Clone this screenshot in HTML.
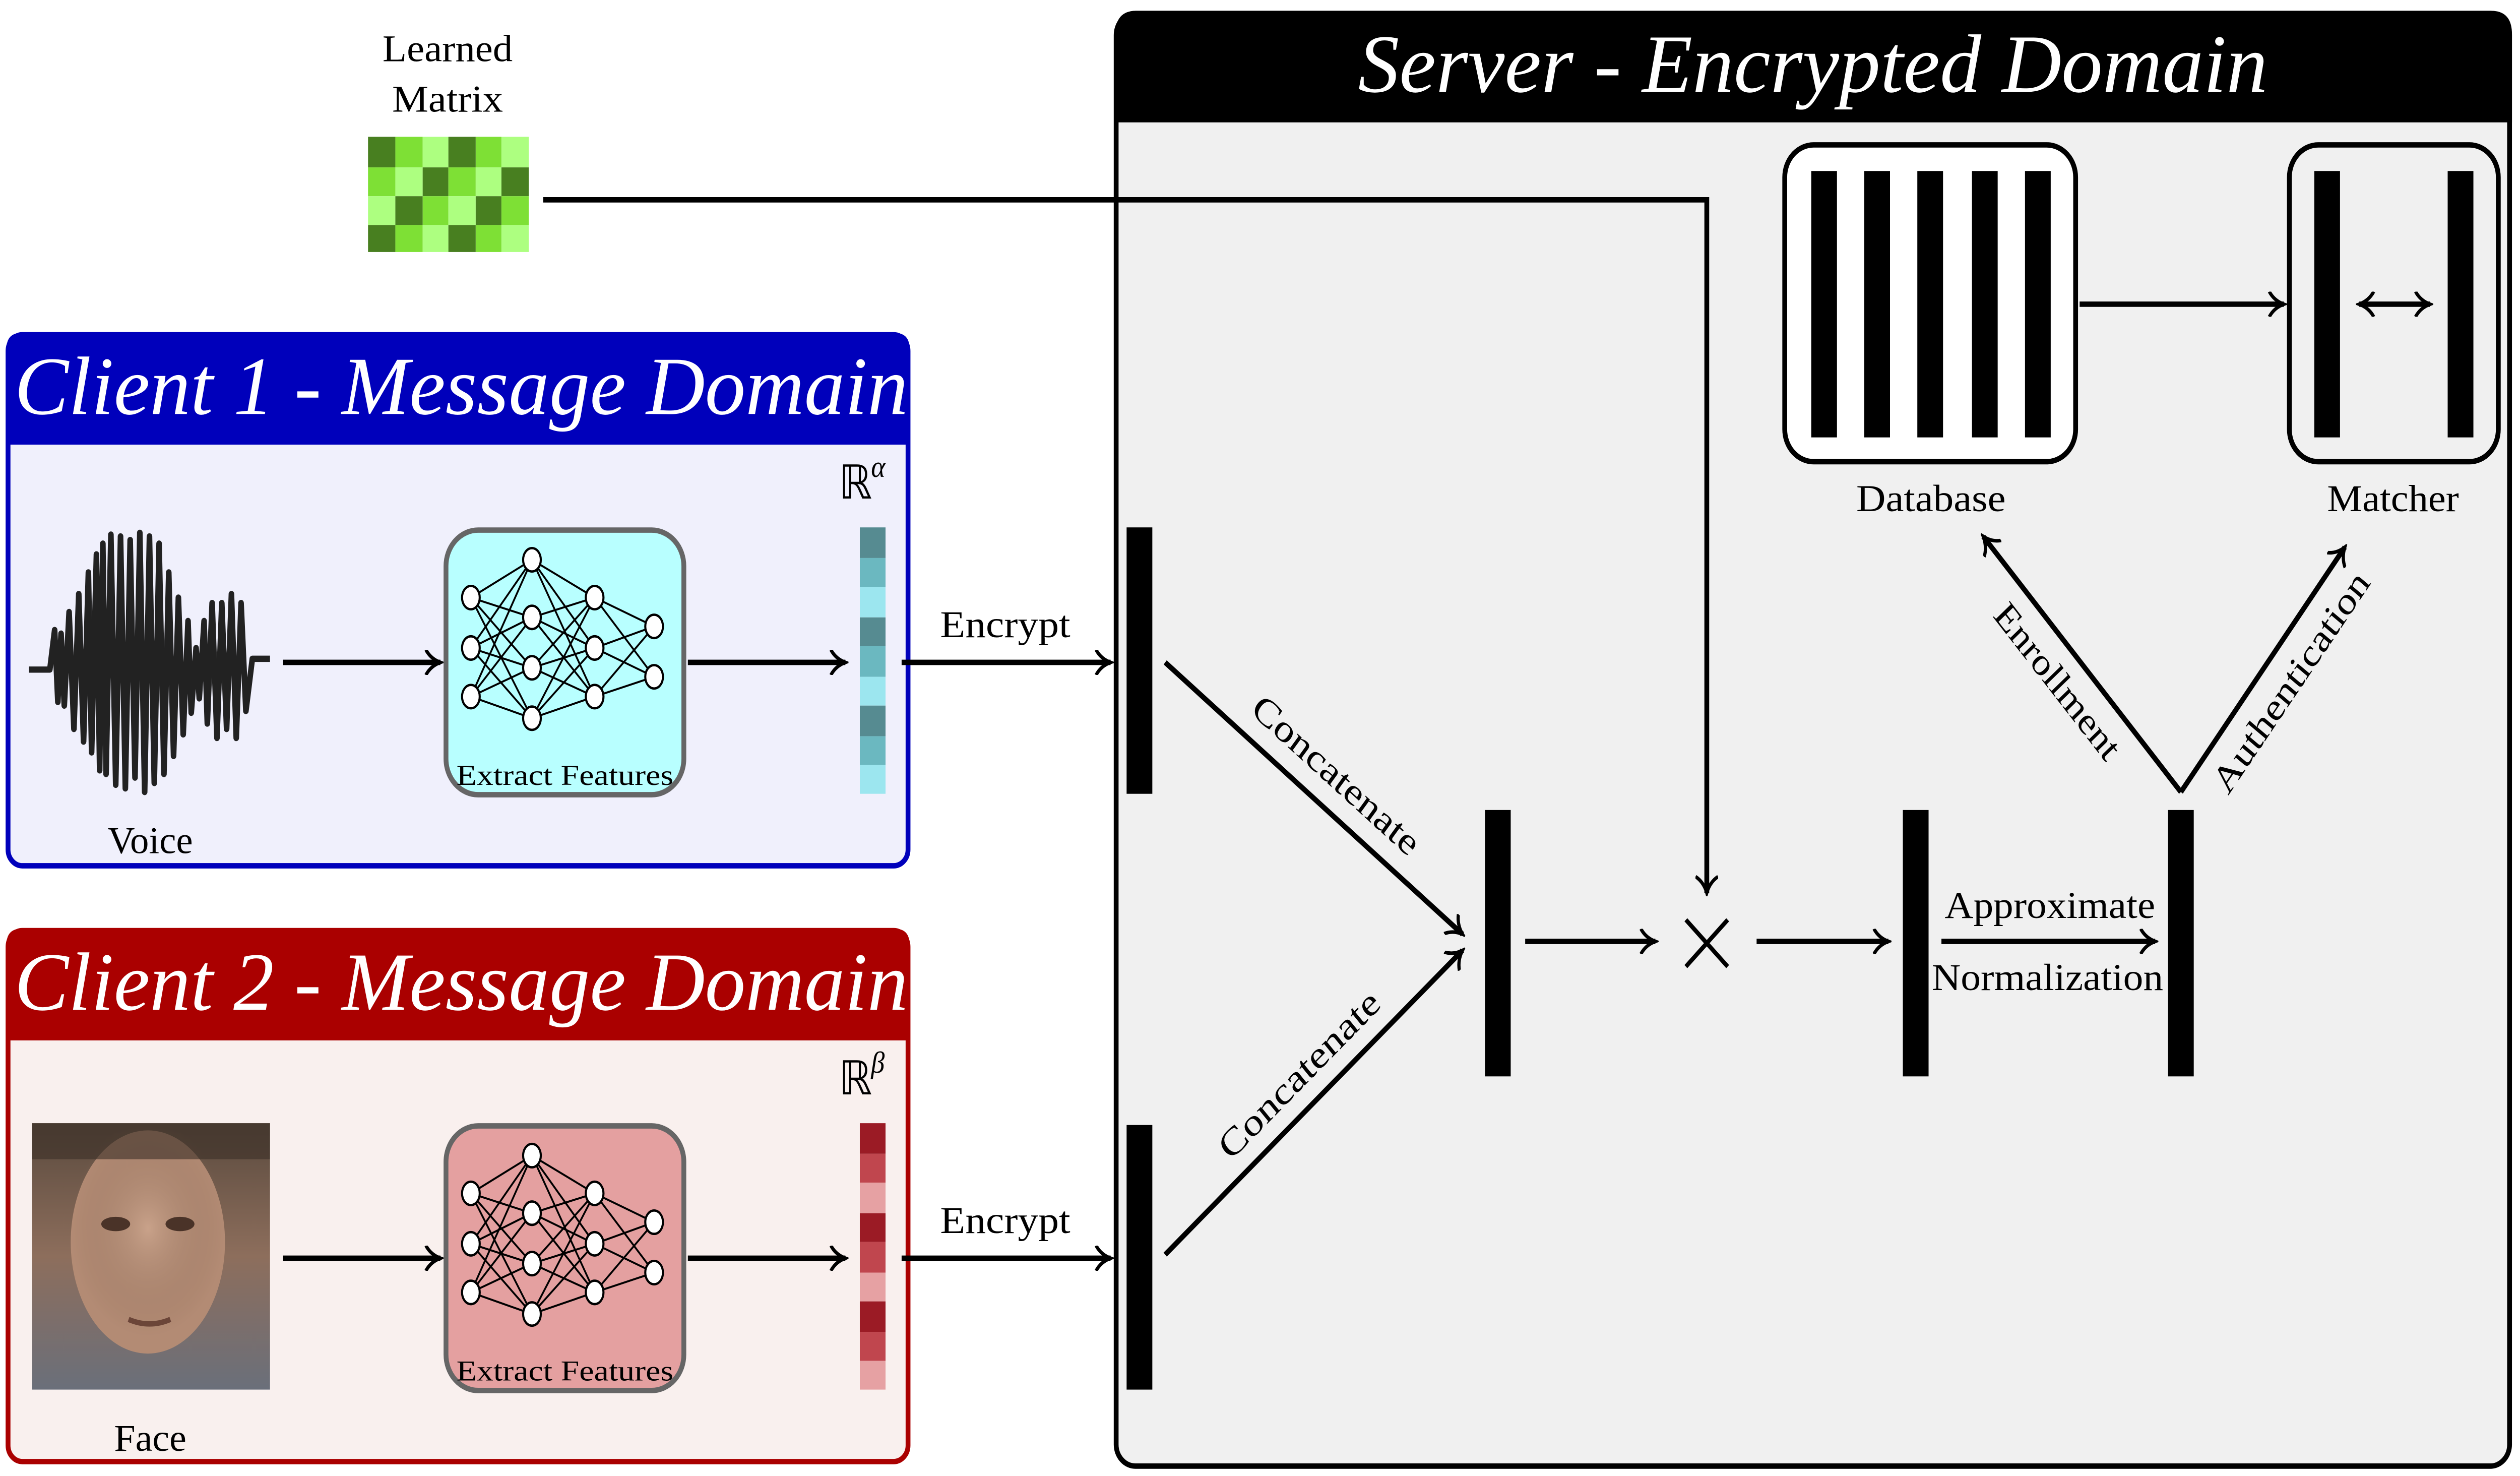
<!DOCTYPE html>
<html><head><meta charset="utf-8"><style>html,body{margin:0;padding:0;background:#fff;width:100%;height:100%;overflow:hidden}svg{display:block;position:fixed;left:0;top:0;width:100vw;height:100vh}text{font-family:"Liberation Serif",serif}</style></head><body>
<svg viewBox="0 0 1568 820" preserveAspectRatio="none" xmlns="http://www.w3.org/2000/svg">
<defs>
<marker id="a" markerWidth="12" markerHeight="14" refX="10" refY="7" orient="auto" markerUnits="userSpaceOnUse"><path d="M1,0 Q4,5 10,7 Q4,9 1,14" fill="none" stroke="#000" stroke-width="2"/></marker>
<marker id="b" markerWidth="12" markerHeight="14" refX="10" refY="7" orient="auto-start-reverse" markerUnits="userSpaceOnUse"><path d="M1,0 Q4,5 10,7 Q4,9 1,14" fill="none" stroke="#000" stroke-width="2"/></marker>
<linearGradient id="fg" x1="0" y1="0" x2="0" y2="1"><stop offset="0" stop-color="#5a4a3e"/><stop offset=".5" stop-color="#8d6e5c"/><stop offset="1" stop-color="#6a6f7a"/></linearGradient>
<radialGradient id="fc" cx=".5" cy=".45" r=".4"><stop offset="0" stop-color="#c9a28a"/><stop offset="1" stop-color="#8b6a56" stop-opacity="0"/></radialGradient>
</defs>

<text x="238" y="34" font-size="21" textLength="81" lengthAdjust="spacingAndGlyphs">Learned</text>
<text x="244" y="62" font-size="21" textLength="69" lengthAdjust="spacingAndGlyphs">Matrix</text>
<g>
<rect x="229" y="76" width="17" height="17" fill="#487f20"/><rect x="246" y="76" width="17" height="17" fill="#7ee035"/><rect x="263" y="76" width="16" height="17" fill="#adff80"/><rect x="279" y="76" width="17" height="17" fill="#487f20"/><rect x="296" y="76" width="16" height="17" fill="#7ee035"/><rect x="312" y="76" width="17" height="17" fill="#adff80"/>
<rect x="229" y="93" width="17" height="16" fill="#7ee035"/><rect x="246" y="93" width="17" height="16" fill="#adff80"/><rect x="263" y="93" width="16" height="16" fill="#487f20"/><rect x="279" y="93" width="17" height="16" fill="#7ee035"/><rect x="296" y="93" width="16" height="16" fill="#adff80"/><rect x="312" y="93" width="17" height="16" fill="#487f20"/>
<rect x="229" y="109" width="17" height="16" fill="#adff80"/><rect x="246" y="109" width="17" height="16" fill="#487f20"/><rect x="263" y="109" width="16" height="16" fill="#7ee035"/><rect x="279" y="109" width="17" height="16" fill="#adff80"/><rect x="296" y="109" width="16" height="16" fill="#487f20"/><rect x="312" y="109" width="17" height="16" fill="#7ee035"/>
<rect x="229" y="125" width="17" height="15" fill="#487f20"/><rect x="246" y="125" width="17" height="15" fill="#7ee035"/><rect x="263" y="125" width="16" height="15" fill="#adff80"/><rect x="279" y="125" width="17" height="15" fill="#487f20"/><rect x="296" y="125" width="16" height="15" fill="#7ee035"/><rect x="312" y="125" width="17" height="15" fill="#adff80"/>
</g>

<rect x="694.5" y="7.5" width="867" height="807" rx="12" fill="#f0f0f0" stroke="#000" stroke-width="3"/>
<path d="M694,68 V19 Q694,6 707,6 H1550 Q1563,6 1563,19 V68 Z" fill="#000"/>
<text x="845" y="51" font-size="46" font-style="italic" fill="#fff" textLength="566" lengthAdjust="spacingAndGlyphs">Server - Encrypted Domain</text>

<rect x="5" y="186" width="560" height="295" rx="9" fill="#f0f0fc" stroke="#0000bb" stroke-width="3"/>
<path d="M4,247 V194 Q4,185 13,185 H557 Q566,185 566,194 V247 Z" fill="#0000bb"/>
<text x="9" y="230" font-size="46" font-style="italic" fill="#fff" textLength="556" lengthAdjust="spacingAndGlyphs">Client 1 - Message Domain</text>
<rect x="5" y="517" width="560" height="295" rx="9" fill="#f9f0ee" stroke="#aa0000" stroke-width="3"/>
<path d="M4,578 V525 Q4,516 13,516 H557 Q566,516 566,525 V578 Z" fill="#aa0000"/>
<text x="9" y="561" font-size="46" font-style="italic" fill="#fff" textLength="556" lengthAdjust="spacingAndGlyphs">Client 2 - Message Domain</text>

<path d="M18,372 H31 L34,350 L36,390 L38,352 L40,392 L43,340 L46,405 L49,330 L52,412 L55,318 L57,418 L60,308 L62,428 L64,302 L66,430 L69,297 L72,436 L75,298 L78,438 L81,300 L84,432 L87,296 L90,440 L93,298 L96,435 L99,302 L102,430 L105,318 L108,420 L111,332 L114,408 L117,345 L119,396 L122,360 L124,388 L127,345 L129,402 L132,335 L135,410 L138,335 L141,405 L144,330 L147,410 L150,335 L153,395 L157,366 H168" fill="none" stroke="#222" stroke-width="3.5" stroke-linejoin="round"/>
<text x="67" y="474" font-size="21" textLength="53" lengthAdjust="spacingAndGlyphs">Voice</text>

<rect x="20" y="624" width="148" height="148" fill="url(#fg)"/>
<ellipse cx="92" cy="690" rx="48" ry="62" fill="#b38b74"/>
<ellipse cx="92" cy="690" rx="60" ry="75" fill="url(#fc)"/>
<rect x="20" y="624" width="148" height="20" fill="#3a2e26" opacity=".6"/>
<ellipse cx="72" cy="680" rx="9" ry="4" fill="#4a3328"/><ellipse cx="112" cy="680" rx="9" ry="4" fill="#4a3328"/>
<path d="M80,733 Q93,738 106,733" stroke="#6b4538" stroke-width="3" fill="none"/>
<text x="71" y="806" font-size="21" textLength="45" lengthAdjust="spacingAndGlyphs">Face</text>

<g>
<rect x="277.5" y="294.5" width="148" height="147" rx="20" fill="#b8ffff" stroke="#666" stroke-width="3"/>
<g stroke="#000" stroke-width="1.1">
<path d="M293,332L331,311M293,332L331,343M293,332L331,371M293,332L331,399M293,360L331,311M293,360L331,343M293,360L331,371M293,360L331,399M293,387L331,311M293,387L331,343M293,387L331,371M293,387L331,399M331,311L370,332M331,311L370,360M331,311L370,387M331,343L370,332M331,343L370,360M331,343L370,387M331,371L370,332M331,371L370,360M331,371L370,387M331,399L370,332M331,399L370,360M331,399L370,387M370,332L407,348M370,332L407,376M370,360L407,348M370,360L407,376M370,387L407,348M370,387L407,376"/>
</g>
<g fill="#fff" stroke="#000" stroke-width="1.3">
<ellipse cx="293" cy="332" rx="5.5" ry="6.5"/><ellipse cx="293" cy="360" rx="5.5" ry="6.5"/><ellipse cx="293" cy="387" rx="5.5" ry="6.5"/>
<ellipse cx="331" cy="311" rx="5.5" ry="6.5"/><ellipse cx="331" cy="343" rx="5.5" ry="6.5"/><ellipse cx="331" cy="371" rx="5.5" ry="6.5"/><ellipse cx="331" cy="399" rx="5.5" ry="6.5"/>
<ellipse cx="370" cy="332" rx="5.5" ry="6.5"/><ellipse cx="370" cy="360" rx="5.5" ry="6.5"/><ellipse cx="370" cy="387" rx="5.5" ry="6.5"/>
<ellipse cx="407" cy="348" rx="5.5" ry="6.5"/><ellipse cx="407" cy="376" rx="5.5" ry="6.5"/>
</g>
<text x="284" y="436" font-size="16" textLength="135" lengthAdjust="spacingAndGlyphs">Extract Features</text>
</g>
<g transform="translate(0,331)">
<rect x="277.5" y="294.5" width="148" height="147" rx="20" fill="#e4a0a0" stroke="#666" stroke-width="3"/>
<g stroke="#000" stroke-width="1.1">
<path d="M293,332L331,311M293,332L331,343M293,332L331,371M293,332L331,399M293,360L331,311M293,360L331,343M293,360L331,371M293,360L331,399M293,387L331,311M293,387L331,343M293,387L331,371M293,387L331,399M331,311L370,332M331,311L370,360M331,311L370,387M331,343L370,332M331,343L370,360M331,343L370,387M331,371L370,332M331,371L370,360M331,371L370,387M331,399L370,332M331,399L370,360M331,399L370,387M370,332L407,348M370,332L407,376M370,360L407,348M370,360L407,376M370,387L407,348M370,387L407,376"/>
</g>
<g fill="#fff" stroke="#000" stroke-width="1.3">
<ellipse cx="293" cy="332" rx="5.5" ry="6.5"/><ellipse cx="293" cy="360" rx="5.5" ry="6.5"/><ellipse cx="293" cy="387" rx="5.5" ry="6.5"/>
<ellipse cx="331" cy="311" rx="5.5" ry="6.5"/><ellipse cx="331" cy="343" rx="5.5" ry="6.5"/><ellipse cx="331" cy="371" rx="5.5" ry="6.5"/><ellipse cx="331" cy="399" rx="5.5" ry="6.5"/>
<ellipse cx="370" cy="332" rx="5.5" ry="6.5"/><ellipse cx="370" cy="360" rx="5.5" ry="6.5"/><ellipse cx="370" cy="387" rx="5.5" ry="6.5"/>
<ellipse cx="407" cy="348" rx="5.5" ry="6.5"/><ellipse cx="407" cy="376" rx="5.5" ry="6.5"/>
</g>
<text x="284" y="436" font-size="16" textLength="135" lengthAdjust="spacingAndGlyphs">Extract Features</text>
</g>

<g>
<rect x="535" y="293" width="16" height="17" fill="#568b91"/><rect x="535" y="310" width="16" height="16" fill="#6bb8c0"/><rect x="535" y="326" width="16" height="17" fill="#9ce6ef"/>
<rect x="535" y="343" width="16" height="16" fill="#568b91"/><rect x="535" y="359" width="16" height="17" fill="#6bb8c0"/><rect x="535" y="376" width="16" height="16" fill="#9ce6ef"/>
<rect x="535" y="392" width="16" height="17" fill="#568b91"/><rect x="535" y="409" width="16" height="16" fill="#6bb8c0"/><rect x="535" y="425" width="16" height="16" fill="#9ce6ef"/>
</g>
<g>
<rect x="535" y="624" width="16" height="17" fill="#9b1b25"/><rect x="535" y="641" width="16" height="16" fill="#c0464e"/><rect x="535" y="657" width="16" height="17" fill="#e6a1a3"/>
<rect x="535" y="674" width="16" height="16" fill="#9b1b25"/><rect x="535" y="690" width="16" height="17" fill="#c0464e"/><rect x="535" y="707" width="16" height="16" fill="#e6a1a3"/>
<rect x="535" y="723" width="16" height="17" fill="#9b1b25"/><rect x="535" y="740" width="16" height="16" fill="#c0464e"/><rect x="535" y="756" width="16" height="16" fill="#e6a1a3"/>
</g>
<text x="522" y="277" font-size="26">ℝ</text><text x="542" y="265" font-size="17" font-style="italic">α</text>
<text x="522" y="608" font-size="26">ℝ</text><text x="542" y="596" font-size="17" font-style="italic">β</text>

<g stroke="#000" stroke-width="3" fill="none">
<line x1="176" y1="368" x2="274" y2="368" marker-end="url(#a)"/>
<line x1="428" y1="368" x2="526" y2="368" marker-end="url(#a)"/>
<line x1="561" y1="368" x2="691" y2="368" marker-end="url(#a)"/>
<line x1="176" y1="699" x2="274" y2="699" marker-end="url(#a)"/>
<line x1="428" y1="699" x2="526" y2="699" marker-end="url(#a)"/>
<line x1="561" y1="699" x2="691" y2="699" marker-end="url(#a)"/>
<polyline points="338,111 1062,111 1062,496" marker-end="url(#a)"/>
<line x1="725" y1="368" x2="910" y2="519" marker-end="url(#a)"/>
<line x1="725" y1="697" x2="910" y2="528" marker-end="url(#a)"/>
<line x1="949" y1="523" x2="1030" y2="523" marker-end="url(#a)"/>
<line x1="1093" y1="523" x2="1175" y2="523" marker-end="url(#a)"/>
<line x1="1208" y1="523" x2="1341" y2="523" marker-end="url(#a)"/>
<line x1="1357" y1="440" x2="1234" y2="298" marker-end="url(#a)"/>
<line x1="1357" y1="440" x2="1459" y2="304" marker-end="url(#a)"/>
<line x1="1294" y1="169" x2="1421" y2="169" marker-end="url(#a)"/>
<line x1="1468" y1="169" x2="1512" y2="169" marker-start="url(#b)" marker-end="url(#a)"/>
<path d="M1049,511 L1075,537 M1075,511 L1049,537" stroke-width="2.5"/>
</g>
<text x="585" y="354" font-size="21" textLength="81" lengthAdjust="spacingAndGlyphs">Encrypt</text>
<text x="585" y="685" font-size="21" textLength="81" lengthAdjust="spacingAndGlyphs">Encrypt</text>

<g fill="#000">
<rect x="701" y="293" width="16" height="148"/>
<rect x="701" y="625" width="16" height="147"/>
<rect x="924" y="450" width="16" height="148"/>
<rect x="1184" y="450" width="16" height="148"/>
<rect x="1349" y="450" width="16" height="148"/>
</g>
<text transform="translate(827,436) rotate(39.1)" font-size="21" text-anchor="middle" textLength="128" lengthAdjust="spacingAndGlyphs">Concatenate</text>
<text transform="translate(813,602) rotate(-42.4)" font-size="21" text-anchor="middle" textLength="128" lengthAdjust="spacingAndGlyphs">Concatenate</text>
<text x="1210" y="510" font-size="21" textLength="131" lengthAdjust="spacingAndGlyphs">Approximate</text>
<text x="1202" y="550" font-size="21" textLength="144" lengthAdjust="spacingAndGlyphs">Normalization</text>
<text transform="translate(1275,383) rotate(49)" font-size="21" text-anchor="middle" textLength="108" lengthAdjust="spacingAndGlyphs">Enrollment</text>
<text transform="translate(1431,383) rotate(-53)" font-size="21" text-anchor="middle" textLength="148" lengthAdjust="spacingAndGlyphs">Authentication</text>

<rect x="1110.5" y="80.5" width="181" height="176" rx="18" fill="#fff" stroke="#000" stroke-width="3"/>
<g fill="#000">
<rect x="1127" y="95" width="16" height="148"/><rect x="1160" y="95" width="16" height="148"/><rect x="1193" y="95" width="16" height="148"/><rect x="1227" y="95" width="16" height="148"/><rect x="1260" y="95" width="16" height="148"/>
</g>
<rect x="1424.5" y="80.5" width="130" height="176" rx="18" fill="none" stroke="#000" stroke-width="3"/>
<rect x="1440" y="95" width="16" height="148"/><rect x="1523" y="95" width="16" height="148"/>
<text x="1155" y="284" font-size="21" textLength="93" lengthAdjust="spacingAndGlyphs">Database</text>
<text x="1448" y="284" font-size="21" textLength="82" lengthAdjust="spacingAndGlyphs">Matcher</text>
</svg>
</body></html>
